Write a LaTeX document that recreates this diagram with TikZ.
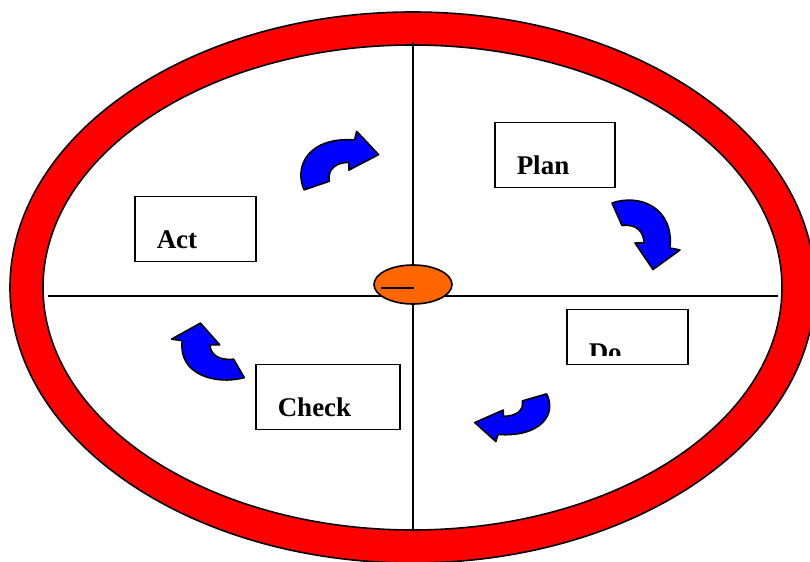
\documentclass[tikz,border=0pt]{standalone}
\usepackage{fontspec}
\setmainfont{Liberation Serif}
\usepackage{tikz}

\definecolor{ringred}{RGB}{255,0,0}
\definecolor{hubor}{RGB}{255,102,0}
\definecolor{turnblue}{RGB}{0,0,255}

\tikzset{
  pics/turn/.style={code={
    \filldraw[turnblue, draw=black, line width=0.8pt, line join=round]
      (-33,32.5) .. controls (-5,42) and (29,28) .. (25,-12.5)
      -- (35,-14.5) -- (8,-34) -- (-10,-7.5) -- (-1,-7.5)
      .. controls (-1,3) and (-8,12) .. (-23,10) -- cycle;
  }}
}

\begin{document}
\begin{tikzpicture}[x=0.5pt, y=0.5pt,
  box/.style={draw, line width=0.75pt, fill=white, anchor=north west, align=left,
    text width=#1, inner xsep=11pt, inner ysep=0pt, text height=26pt, text depth=6.5pt,
    font=\fontsize{13.5}{16}\selectfont\bfseries},
  axis/.style={line width=0.6pt}
]
\path[use as bounding box, clip] (0,0) rectangle (810,562);

% ring
\fill[ringred, even odd rule] (412.5,274.5) ellipse [x radius=402.5, y radius=275.5]
  (412.5,274.5) ellipse [x radius=369.5, y radius=242.5];
\draw[line width=0.8pt] (412.5,274.5) ellipse [x radius=402.5, y radius=275.5];
\draw[line width=0.8pt] (412.5,274.5) ellipse [x radius=369.5, y radius=242.5];

% quadrants
\coordinate (top) at (413,520);
\coordinate (bottom) at (413,32);
\coordinate (left) at (48,266);
\coordinate (right) at (778,266);
\draw[axis] (top) -- (bottom);
\draw[axis] (left) -- (right);

% hub
\filldraw[fill=hubor, line width=0.8pt] (413,277.5) ellipse [x radius=39, y radius=19.5];
\draw[line width=0.9pt] (381,274) -- (414,274);

% steps
\node[box=38pt] (plan) at (494,440) {Plan};
\node[box=38.5pt] (act) at (134,366) {Act};
\node[box=38.5pt, text depth=1.5pt] (do) at (566,253) {Do};
\node[box=50pt] (check) at (255,198) {Check};
\fill[white] ([shift={(0.8pt,0.8pt)}]do.south west) rectangle ([shift={(-0.8pt,4.5pt)}]do.south east);

% turning arrows
\pic[rotate=90, xscale=0.86, yscale=1.12] at (340.5,400.5) {turn};
\pic at (645,326.5) {turn};
\pic[rotate=-90, xscale=0.7, yscale=1.08] at (511.5,145) {turn};
\pic[rotate=180, xscale=1.07, yscale=0.82] at (209,211) {turn};
\end{tikzpicture}
\end{document}
